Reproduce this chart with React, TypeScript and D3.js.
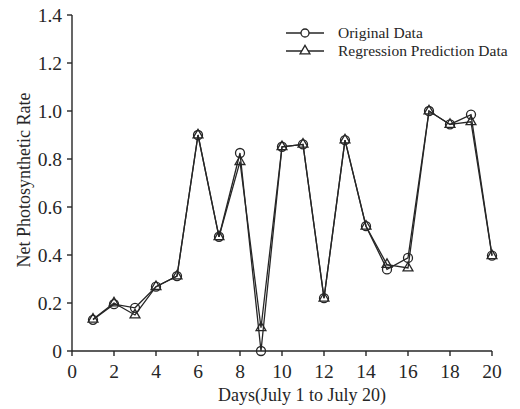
import React from "react";
import * as d3 from "d3";

const days = [1, 2, 3, 4, 5, 6, 7, 8, 9, 10, 11, 12, 13, 14, 15, 16, 17, 18, 19, 20];
const originalData = [0.13, 0.195, 0.18, 0.268, 0.312, 0.9, 0.476, 0.825, 0.0, 0.851, 0.861, 0.22, 0.879, 0.52, 0.34, 0.388, 1.0, 0.944, 0.985, 0.397];
const predictionData = [0.132, 0.2, 0.15, 0.268, 0.312, 0.9, 0.476, 0.789, 0.097, 0.851, 0.861, 0.22, 0.879, 0.52, 0.36, 0.346, 1.0, 0.944, 0.955, 0.397];
const xTicks = [0, 2, 4, 6, 8, 10, 12, 14, 16, 18, 20];
const yTicks = [0, 0.2, 0.4, 0.6, 0.8, 1.0, 1.2, 1.4];
const seriesNames = ["Original Data", "Regression Prediction Data"];

const W = 520, H = 409;
const left = 72, right = 492, top = 15, bottom = 351;
const FONT = "'Liberation Serif', 'Times New Roman', serif";
const INK = "#262626";

export default function App() {
  const x = d3.scaleLinear().domain([0, 20]).range([left, right]);
  const y = d3.scaleLinear().domain([0, 1.4]).range([bottom, top]);
  const line = d3.line<number>().x((_, i) => x(days[i])).y((v) => y(v));
  const tri = d3.symbol().type(d3.symbolTriangle).size(42)();

  const yFmt = (v: number) => (v === 0 ? "0" : v.toFixed(1));

  return (
    <svg width={W} height={H} style={{ position: "absolute", left: 0, top: 0, background: "#fff" }}>
      <rect width={W} height={H} fill="#fff" />
      {/* axes */}
      <line x1={left} x2={left} y1={top} y2={bottom} stroke={INK} strokeWidth={1.4} />
      <line x1={left} x2={right} y1={bottom} y2={bottom} stroke={INK} strokeWidth={1.4} />
      {yTicks.map((t) => (
        <g key={"y" + t}>
          <line x1={left - 5} x2={left} y1={y(t)} y2={y(t)} stroke={INK} strokeWidth={1.4} />
          <text x={left - 10} y={y(t)} dy="0.35em" textAnchor="end" fontFamily={FONT} fontSize={19.5} fill={INK}>
            {yFmt(t)}
          </text>
        </g>
      ))}
      {xTicks.map((t) => (
        <g key={"x" + t}>
          <line x1={x(t)} x2={x(t)} y1={bottom} y2={bottom + 5} stroke={INK} strokeWidth={1.4} />
          <text x={x(t)} y={bottom + 27} textAnchor="middle" fontFamily={FONT} fontSize={19.5} fill={INK}>
            {t}
          </text>
        </g>
      ))}
      <text x={(left + right) / 2 + 20} y={401} textAnchor="middle" fontFamily={FONT} fontSize={18} fill={INK}>
        Days(July 1 to July 20)
      </text>
      <text transform={`translate(30,180) rotate(-90)`} textAnchor="middle" fontFamily={FONT} fontSize={18} fill={INK}>
        Net Photosynthetic Rate
      </text>

      {/* lines */}
      <path d={line(originalData) || ""} fill="none" stroke={INK} strokeWidth={1.3} />
      <path d={line(predictionData) || ""} fill="none" stroke={INK} strokeWidth={1.3} />
      {originalData.map((v, i) => (
        <circle key={"c" + i} cx={x(days[i])} cy={y(v)} r={4.5} fill="none" stroke={INK} strokeWidth={1.3} />
      ))}
      {predictionData.map((v, i) => (
        <path key={"t" + i} d={tri || ""} transform={`translate(${x(days[i])},${y(v)})`} fill="none" stroke={INK} strokeWidth={1.3} />
      ))}

      {/* legend */}
      {seriesNames.map((name, i) => {
        const ly = 33 + i * 18;
        return (
          <g key={name}>
            <line x1={286} x2={324} y1={ly} y2={ly} stroke={INK} strokeWidth={1.3} />
            {i === 0 ? (
              <circle cx={305} cy={ly} r={4} fill="#fff" stroke={INK} strokeWidth={1.3} />
            ) : (
              <path d={tri || ""} transform={`translate(305,${ly})`} fill="#fff" stroke={INK} strokeWidth={1.3} />
            )}
            <text x={338} y={ly} dy="0.35em" fontFamily={FONT} fontSize={15.5} fill={INK}>
              {name}
            </text>
          </g>
        );
      })}
    </svg>
  );
}
